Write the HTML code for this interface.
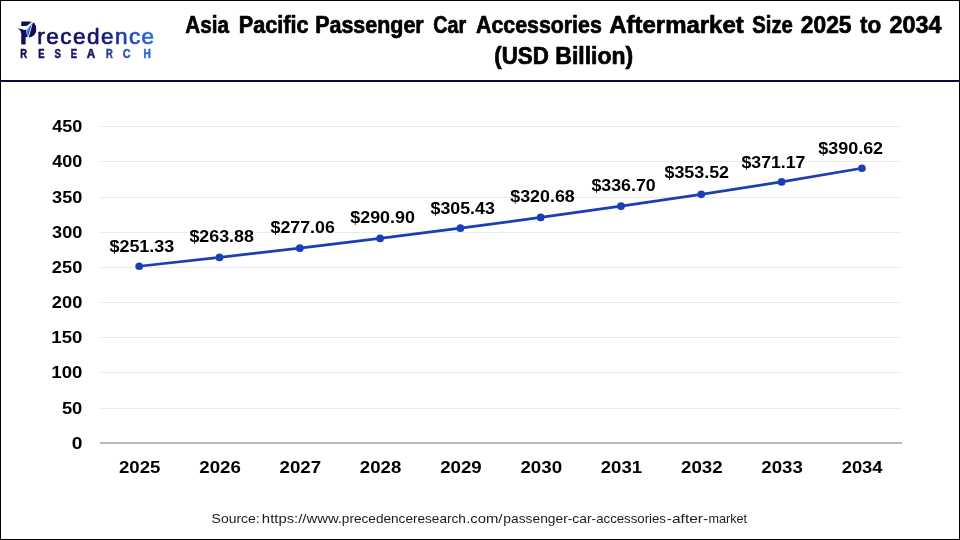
<!DOCTYPE html>
<html lang="en"><head><meta charset="utf-8"><title>Asia Pacific Passenger Car Accessories Aftermarket Size 2025 to 2034</title>
<style>
html,body{margin:0;padding:0;background:#fff;}
body{width:960px;height:540px;overflow:hidden;font-family:"Liberation Sans",sans-serif;}
svg{display:block;position:absolute;left:0;top:0;}
text{font-family:"Liberation Sans",sans-serif;white-space:pre;}
.b{font-weight:700;fill:#000;}
</style></head><body>
<svg width="960" height="540" viewBox="0 0 960 540">
<defs>
<linearGradient id="g1" gradientUnits="userSpaceOnUse" x1="17" y1="0" x2="154" y2="0">
<stop offset="0" stop-color="#10105a"/><stop offset="0.6" stop-color="#12146a"/><stop offset="0.82" stop-color="#2146b0"/><stop offset="1" stop-color="#2f6fe6"/>
</linearGradient>
<linearGradient id="g2" gradientUnits="userSpaceOnUse" x1="20" y1="0" x2="151" y2="0">
<stop offset="0" stop-color="#131350"/><stop offset="0.58" stop-color="#151764"/><stop offset="0.7" stop-color="#2b4a9c"/><stop offset="0.85" stop-color="#2a5cc0"/><stop offset="1" stop-color="#2a68e0"/>
</linearGradient>
<linearGradient id="g3" gradientUnits="userSpaceOnUse" x1="26" y1="30" x2="31" y2="32">
<stop offset="0" stop-color="#5a9cf5"/><stop offset="0.45" stop-color="#3f82ea"/><stop offset="0.55" stop-color="#2458c8"/><stop offset="1" stop-color="#1d45b0"/>
</linearGradient>
</defs>
<rect x="0" y="0" width="960" height="540" fill="#fff"/>

<rect x="100" y="408" width="802" height="1" fill="#ebebeb"/>
<rect x="100" y="372" width="802" height="1" fill="#ebebeb"/>
<rect x="100" y="337" width="802" height="1" fill="#ebebeb"/>
<rect x="100" y="302" width="802" height="1" fill="#ebebeb"/>
<rect x="100" y="267" width="802" height="1" fill="#ebebeb"/>
<rect x="100" y="232" width="802" height="1" fill="#ebebeb"/>
<rect x="100" y="197" width="802" height="1" fill="#ebebeb"/>
<rect x="100" y="161" width="802" height="1" fill="#ebebeb"/>
<rect x="100" y="126" width="802" height="1" fill="#ebebeb"/>
<rect x="100" y="442" width="802" height="2" fill="#bababa"/>
<text class="b" y="448.90" font-size="15.9"><tspan x="71.65" textLength="10.73" lengthAdjust="spacingAndGlyphs">0</tspan></text>
<text class="b" y="414.40" font-size="15.9"><tspan x="61.90" textLength="20.44" lengthAdjust="spacingAndGlyphs">50</tspan></text>
<text class="b" y="378.40" font-size="15.9"><tspan x="51.35" textLength="31.00" lengthAdjust="spacingAndGlyphs">100</tspan></text>
<text class="b" y="343.40" font-size="15.9"><tspan x="51.35" textLength="31.00" lengthAdjust="spacingAndGlyphs">150</tspan></text>
<text class="b" y="308.40" font-size="15.9"><tspan x="51.88" textLength="30.46" lengthAdjust="spacingAndGlyphs">200</tspan></text>
<text class="b" y="273.40" font-size="15.9"><tspan x="51.88" textLength="30.46" lengthAdjust="spacingAndGlyphs">250</tspan></text>
<text class="b" y="238.40" font-size="15.9"><tspan x="52.10" textLength="30.23" lengthAdjust="spacingAndGlyphs">300</tspan></text>
<text class="b" y="203.40" font-size="15.9"><tspan x="52.10" textLength="30.23" lengthAdjust="spacingAndGlyphs">350</tspan></text>
<text class="b" y="167.40" font-size="15.9"><tspan x="52.23" textLength="30.10" lengthAdjust="spacingAndGlyphs">400</tspan></text>
<text class="b" y="132.40" font-size="15.9"><tspan x="52.23" textLength="30.10" lengthAdjust="spacingAndGlyphs">450</tspan></text>
<text class="b" y="473.1" font-size="16.2"><tspan x="118.97" textLength="41.35" lengthAdjust="spacingAndGlyphs">2025</tspan></text>
<text class="b" y="473.1" font-size="16.2"><tspan x="199.27" textLength="41.50" lengthAdjust="spacingAndGlyphs">2026</tspan></text>
<text class="b" y="473.1" font-size="16.2"><tspan x="279.56" textLength="41.65" lengthAdjust="spacingAndGlyphs">2027</tspan></text>
<text class="b" y="473.1" font-size="16.2"><tspan x="359.87" textLength="41.40" lengthAdjust="spacingAndGlyphs">2028</tspan></text>
<text class="b" y="473.1" font-size="16.2"><tspan x="440.17" textLength="41.52" lengthAdjust="spacingAndGlyphs">2029</tspan></text>
<text class="b" y="473.1" font-size="16.2"><tspan x="520.46" textLength="41.60" lengthAdjust="spacingAndGlyphs">2030</tspan></text>
<text class="b" y="473.1" font-size="16.2"><tspan x="600.77" textLength="41.35" lengthAdjust="spacingAndGlyphs">2031</tspan></text>
<text class="b" y="473.1" font-size="16.2"><tspan x="681.06" textLength="41.58" lengthAdjust="spacingAndGlyphs">2032</tspan></text>
<text class="b" y="473.1" font-size="16.2"><tspan x="761.37" textLength="41.50" lengthAdjust="spacingAndGlyphs">2033</tspan></text>
<text class="b" y="473.1" font-size="16.2"><tspan x="841.67" textLength="40.93" lengthAdjust="spacingAndGlyphs">2034</tspan></text>
<polyline points="139.20,266.23 219.50,257.40 299.80,248.13 380.10,238.40 460.40,228.18 540.70,217.46 621.00,206.19 701.30,194.36 781.60,181.94 861.90,168.26" fill="none" stroke="#1a3eb6" stroke-width="2.7" stroke-linejoin="round" stroke-linecap="round"/>
<circle cx="139.20" cy="266.23" r="3.85" fill="#1a3eb6"/>
<circle cx="219.50" cy="257.40" r="3.85" fill="#1a3eb6"/>
<circle cx="299.80" cy="248.13" r="3.85" fill="#1a3eb6"/>
<circle cx="380.10" cy="238.40" r="3.85" fill="#1a3eb6"/>
<circle cx="460.40" cy="228.18" r="3.85" fill="#1a3eb6"/>
<circle cx="540.70" cy="217.46" r="3.85" fill="#1a3eb6"/>
<circle cx="621.00" cy="206.19" r="3.85" fill="#1a3eb6"/>
<circle cx="701.30" cy="194.36" r="3.85" fill="#1a3eb6"/>
<circle cx="781.60" cy="181.94" r="3.85" fill="#1a3eb6"/>
<circle cx="861.90" cy="168.26" r="3.85" fill="#1a3eb6"/>
<text class="b" y="251.90" font-size="16.2"><tspan x="109.47" textLength="64.76" lengthAdjust="spacingAndGlyphs">$251.33</tspan></text>
<text class="b" y="242.00" font-size="16.2"><tspan x="189.47" textLength="64.36" lengthAdjust="spacingAndGlyphs">$263.88</tspan></text>
<text class="b" y="232.80" font-size="16.2"><tspan x="270.57" textLength="64.25" lengthAdjust="spacingAndGlyphs">$277.06</tspan></text>
<text class="b" y="223.30" font-size="16.2"><tspan x="350.27" textLength="64.64" lengthAdjust="spacingAndGlyphs">$290.90</tspan></text>
<text class="b" y="213.70" font-size="16.2"><tspan x="430.57" textLength="64.25" lengthAdjust="spacingAndGlyphs">$305.43</tspan></text>
<text class="b" y="202.20" font-size="16.2"><tspan x="510.27" textLength="64.46" lengthAdjust="spacingAndGlyphs">$320.68</tspan></text>
<text class="b" y="190.80" font-size="16.2"><tspan x="591.47" textLength="64.24" lengthAdjust="spacingAndGlyphs">$336.70</tspan></text>
<text class="b" y="178.30" font-size="16.2"><tspan x="664.47" textLength="64.52" lengthAdjust="spacingAndGlyphs">$353.52</tspan></text>
<text class="b" y="167.50" font-size="16.2"><tspan x="741.47" textLength="63.99" lengthAdjust="spacingAndGlyphs">$371.17</tspan></text>
<text class="b" y="153.75" font-size="16.2"><tspan x="818.27" textLength="64.83" lengthAdjust="spacingAndGlyphs">$390.62</tspan></text>
<text class="b" y="32.6" font-size="23.2" stroke="#000" stroke-width="0.7" stroke-linejoin="round"><tspan x="185.35" textLength="43.66" lengthAdjust="spacingAndGlyphs">Asia</tspan> <tspan x="238.72" textLength="69.81" lengthAdjust="spacingAndGlyphs">Pacific</tspan> <tspan x="315.18" textLength="108.53" lengthAdjust="spacingAndGlyphs">Passenger</tspan> <tspan x="433.29" textLength="32.89" lengthAdjust="spacingAndGlyphs">Car</tspan> <tspan x="476.09" textLength="125.67" lengthAdjust="spacingAndGlyphs">Accessories</tspan> <tspan x="609.28" textLength="134.42" lengthAdjust="spacingAndGlyphs">Aftermarket</tspan> <tspan x="752.28" textLength="40.56" lengthAdjust="spacingAndGlyphs">Size</tspan> <tspan x="800.83" textLength="50.70" lengthAdjust="spacingAndGlyphs">2025</tspan> <tspan x="860.08" textLength="21.19" lengthAdjust="spacingAndGlyphs">to</tspan> <tspan x="889.56" textLength="51.98" lengthAdjust="spacingAndGlyphs">2034</tspan></text>
<text class="b" y="64.0" font-size="23.2" stroke="#000" stroke-width="0.7" stroke-linejoin="round"><tspan x="494.26" textLength="54.52" lengthAdjust="spacingAndGlyphs">(USD</tspan> <tspan x="555.34" textLength="77.74" lengthAdjust="spacingAndGlyphs">Billion)</tspan></text>
<rect x="0" y="80" width="960" height="2" fill="#0a0a3a"/>
<text y="522.5" font-size="12.7" fill="#1c1c1c"><tspan x="211.62" textLength="48.15" lengthAdjust="spacingAndGlyphs">Source:</tspan> <tspan x="261.88" textLength="80.07" lengthAdjust="spacingAndGlyphs">https://www.</tspan><tspan x="341.88" textLength="123.99" lengthAdjust="spacingAndGlyphs">precedenceresearch</tspan><tspan x="466.15" textLength="36.35" lengthAdjust="spacingAndGlyphs">.com/</tspan><tspan x="503.37" textLength="92.74" lengthAdjust="spacingAndGlyphs">passenger-car-</tspan><tspan x="596.19" textLength="69.78" lengthAdjust="spacingAndGlyphs">accessories</tspan><tspan x="666.82" textLength="41.37" lengthAdjust="spacingAndGlyphs">-after-</tspan><tspan x="708.41" textLength="38.68" lengthAdjust="spacingAndGlyphs">market</tspan></text>
<text y="43.9" stroke-linejoin="round"><tspan x="19.97" font-size="30.7" font-weight="700" fill="#10105a" stroke="#10105a" stroke-width="0.8" textLength="16.47" lengthAdjust="spacingAndGlyphs">P</tspan><tspan x="37.2" y="44.1" font-size="22.6" fill="url(#g1)" stroke="url(#g1)" stroke-width="0.7" textLength="117" lengthAdjust="spacing">recedence</tspan></text>
<path d="M32.4 22.3 C35 23.3 36.3 26.4 36.2 29.8 C36 34.2 32.6 37.3 28.3 37.5 Z" fill="#10105a"/>
<path d="M20.4 25.9 L26.8 25.9 L32.3 21.5 L32.9 22.2 L28.7 37.8 L28 37.8 L25.5 30 L24 30.2 L20.4 29 Z" fill="#fff"/>
<path d="M17.3 28.3 L22 29.2 L24.2 30.1 L26.3 29.6 L26.3 33 L20.8 33 L20.8 31.2 L19.4 29.8 Z" fill="#10105a"/>
<path d="M32.0 23.0 L26.2 30.8 L28.0 36.8 Z" fill="url(#g3)"/>
<text y="57.6" font-size="11.9" font-weight="700" fill="url(#g2)" stroke="url(#g2)" stroke-width="0.5"><tspan x="20.23" textLength="6.81" lengthAdjust="spacingAndGlyphs">R</tspan><tspan x="38.33" textLength="6.29" lengthAdjust="spacingAndGlyphs">E</tspan><tspan x="54.38" textLength="6.34" lengthAdjust="spacingAndGlyphs">S</tspan><tspan x="70.73" textLength="6.29" lengthAdjust="spacingAndGlyphs">E</tspan><tspan x="86.87" textLength="8.49" lengthAdjust="spacingAndGlyphs">A</tspan><tspan x="106.03" textLength="6.81" lengthAdjust="spacingAndGlyphs">R</tspan><tspan x="122.80" textLength="7.84" lengthAdjust="spacingAndGlyphs">C</tspan><tspan x="143.48" textLength="7.36" lengthAdjust="spacingAndGlyphs">H</tspan></text>
<rect x="0.5" y="0.5" width="959" height="539" fill="none" stroke="#000" stroke-width="1"/>
</svg></body></html>
